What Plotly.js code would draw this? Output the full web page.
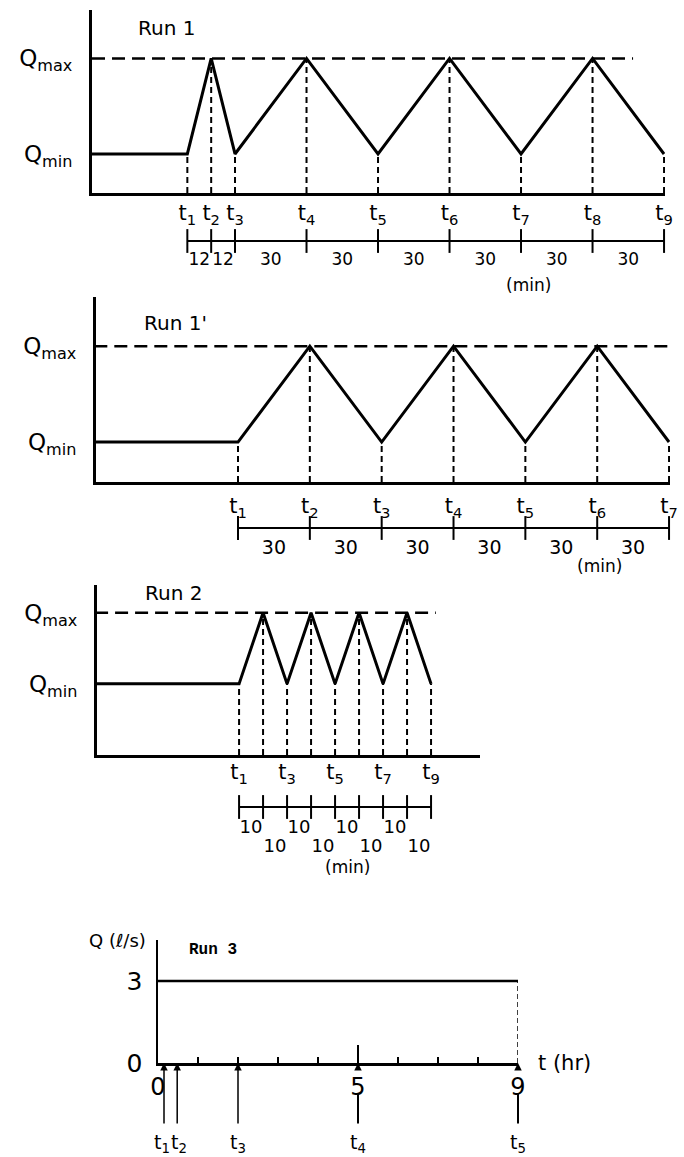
<!DOCTYPE html>
<html><head><meta charset="utf-8">
<script src="https://cdn.plot.ly/plotly-3.0.1.min.js"></script>
<style>html,body{margin:0;padding:0;background:#fff;} #chart{width:684px;height:1157px;}</style>
</head><body><div id="chart"></div>
<script>
// ---------------- DATA ----------------
// Run 1 : times (min, as drawn, relative to t1) and discharge levels
const run1Times = [-40, 0, 10, 20, 50, 80, 110, 140, 170, 200];
const run1Levels = ['min','min','max','min','max','min','max','min','max','min'];
const run1Durations = ['12', '12', '30', '30', '30', '30', '30', '30'];
const run1TLabels = ['t<sub>1</sub>','t<sub>2</sub>','t<sub>3</sub>','t<sub>4</sub>','t<sub>5</sub>','t<sub>6</sub>','t<sub>7</sub>','t<sub>8</sub>','t<sub>9</sub>'];
const run1QmaxEnd = 187;
const run1Q = {min: 1, max: 3.45};

// Run 1'
const run1pTimes = [-60, 0, 30, 60, 90, 120, 150, 180];
const run1pLevels = ['min','min','max','min','max','min','max','min'];
const run1pDurations = ['30', '30', '30', '30', '30', '30'];
const run1pTLabels = ['t<sub>1</sub>','t<sub>2</sub>','t<sub>3</sub>','t<sub>4</sub>','t<sub>5</sub>','t<sub>6</sub>','t<sub>7</sub>'];
const run1pQmaxEnd = 181;
const run1pQ = {min: 1, max: 3.4};

// Run 2
const run2Times = [-60, 0, 10, 20, 30, 40, 50, 60, 70, 80];
const run2Levels = ['min','min','max','min','max','min','max','min','max','min'];
const run2Durations = ['10', '10', '10', '10', '10', '10', '10', '10'];
const run2TLabels = ['t<sub>1</sub>','','t<sub>3</sub>','','t<sub>5</sub>','','t<sub>7</sub>','','t<sub>9</sub>'];
const run2QmaxEnd = 82;
const run2Q = {min: 1, max: 2.0};

// Run 3 (hours, l/s)
const run3Hours = [0, 9];
const run3Flow = [3, 3];
const run3LabelHours = [0, 5, 9];
const run3MinorHours = [1, 2, 3, 4, 6, 7, 8];
const run3MajorTickHours = [5];
const run3ArrowHours = [0.15, 0.48, 2, 5, 9];
const run3ArrowLabels = ['t<sub>1</sub>','t<sub>2</sub>','t<sub>3</sub>','t<sub>4</sub>','t<sub>5</sub>'];

// ---------------- LAYOUT HELPERS ----------------
const W = 684, H = 1157;
const FONT = 'DejaVu Sans';
const px = x => x / W;
const py = y => 1 - y / H;
const BLACK = '#000';

const traces = [];
const annotations = [];
const layout = {
  width: W, height: H, autosize: false,
  margin: {l: 0, r: 0, t: 0, b: 0, pad: 0},
  paper_bgcolor: '#fff', plot_bgcolor: 'rgba(0,0,0,0)',
  showlegend: false, hovermode: false,
  font: {family: FONT, color: BLACK}
};

function baseX(domain, range, anchor) {
  return {domain: [px(domain[0]), px(domain[1])], range: range, anchor: anchor,
    showline: true, linewidth: 3, linecolor: BLACK, showgrid: false, zeroline: false,
    ticks: '', showticklabels: false, fixedrange: true};
}

function drawRun(cfg) {
  const xa = 'xaxis' + cfg.n, ya = 'yaxis' + cfg.n, ra = 'yaxis' + (cfg.n + 4);
  const xid = 'x' + cfg.n, yid = 'y' + cfg.n, rid = 'y' + (cfg.n + 4);
  layout[xa] = baseX(cfg.xDom, cfg.xRange, yid);
  layout[ya] = {domain: [py(cfg.yDom[1]), py(cfg.yDom[0])], range: cfg.yRange, anchor: xid,
    showline: true, linewidth: 3, linecolor: BLACK, showgrid: false, zeroline: false,
    ticks: '', tickvals: [cfg.Q.min, cfg.Q.max], ticktext: ['Q<sub>min</sub>', 'Q<sub>max</sub>'],
    tickfont: {family: FONT, size: 23, color: BLACK}, ticklabelstandoff: 12, fixedrange: true};
  layout[ra] = {domain: [py(cfg.rowDom[1]), py(cfg.rowDom[0])], range: [-(cfg.rowDom[1] - cfg.rowDom[0]), 0],
    anchor: xid, visible: false, fixedrange: true};

  const q = cfg.levels.map(l => cfg.Q[l]);
  const tEvents = cfg.times.slice(1);
  const qEvents = q.slice(1);

  // Qmax reference dashed line
  traces.push({x: [cfg.times[0], cfg.qmaxEnd], y: [cfg.Q.max, cfg.Q.max], xaxis: xid, yaxis: yid,
    mode: 'lines', line: {color: BLACK, width: 2.5, dash: '13px,7px'}});
  // drop lines
  const dx = [], dy = [];
  tEvents.forEach((t, i) => { dx.push(t, t, null); dy.push(0, qEvents[i], null); });
  traces.push({x: dx, y: dy, xaxis: xid, yaxis: yid, mode: 'lines',
    line: {color: BLACK, width: 2, dash: '6px,4px'}});
  // hydrograph
  traces.push({x: cfg.times, y: q, xaxis: xid, yaxis: yid, mode: 'lines',
    line: {color: BLACK, width: 3}});

  // t labels (only the labelled events)
  const lx = [], lt = [];
  tEvents.forEach((t, i) => { if (cfg.tLabels[i]) { lx.push(t); lt.push(cfg.tLabels[i]); } });
  traces.push({x: lx, y: lx.map(() => cfg.rowPos.t), text: lt, xaxis: xid, yaxis: rid,
    mode: 'text', textposition: 'middle center', cliponaxis: false,
    textfont: {family: FONT, size: 21, color: BLACK}});
  // duration bar
  traces.push({x: tEvents, y: tEvents.map(() => cfg.rowPos.bar), xaxis: xid, yaxis: rid,
    mode: 'lines+markers', cliponaxis: false, line: {color: BLACK, width: 2},
    marker: {symbol: 'line-ns', size: 17, color: BLACK, line: {color: BLACK, width: 2}}});
  // duration numbers
  const mids = tEvents.slice(1).map((t, i) => (t + tEvents[i]) / 2);
  traces.push({x: mids, y: mids.map((m, i) => (cfg.rowPos.num2 !== undefined && i % 2 === 1) ? cfg.rowPos.num2 : cfg.rowPos.num),
    text: cfg.durations, xaxis: xid, yaxis: rid, mode: 'text', textposition: 'middle center', cliponaxis: false,
    textfont: {family: FONT, size: cfg.numSize, color: BLACK}});
  // (min)
  annotations.push({xref: xid, yref: rid, x: cfg.minX, y: cfg.rowPos.min, text: '(min)', showarrow: false,
    xanchor: 'center', yanchor: 'middle', font: {family: FONT, size: 17, color: BLACK}});
  // Run label
  annotations.push({xref: xid + ' domain', yref: yid + ' domain', x: cfg.label.x, y: cfg.label.y,
    text: cfg.label.text, showarrow: false, xanchor: 'left', yanchor: 'middle',
    font: {family: FONT, size: 20, color: BLACK}});
}

drawRun({n: 1, times: run1Times, levels: run1Levels, Q: run1Q, durations: run1Durations, tLabels: run1TLabels,
  qmaxEnd: run1QmaxEnd, xDom: [92, 665], yDom: [10, 193], rowDom: [196, 300], xRange: [-40, 200.4], yRange: [0, 4.69],
  rowPos: {t: -19, bar: -45, num: -65, min: -89}, minX: 143, numSize: 17,
  label: {text: 'Run 1', x: 0.076, y: 0.90}});

drawRun({n: 2, times: run1pTimes, levels: run1pLevels, Q: run1pQ, durations: run1pDurations, tLabels: run1pTLabels,
  qmaxEnd: run1pQmaxEnd, xDom: [96, 670], yDom: [297, 482], rowDom: [485, 590], xRange: [-59.3, 180.4], yRange: [0, 4.63],
  rowPos: {t: -23, bar: -43, num: -64, min: -81}, minX: 151, numSize: 19,
  label: {text: "Run 1'", x: 0.08, y: 0.86}});

drawRun({n: 3, times: run2Times, levels: run2Levels, Q: run2Q, durations: run2Durations, tLabels: run2TLabels,
  qmaxEnd: run2QmaxEnd, xDom: [97, 480], yDom: [585, 755], rowDom: [758, 880], xRange: [-59.2, 100.4], yRange: [0, 2.39],
  rowPos: {t: -16, bar: -49, num: -70, num2: -89, min: -109}, minX: 45, numSize: 18,
  label: {text: 'Run 2', x: 0.12, y: 0.953}});

// ---------------- Run 3 ----------------
const r3Dom = [158, 518], r3Range = [0, 9];
layout.xaxis4 = {domain: [px(r3Dom[0]), px(r3Dom[1])], range: r3Range, anchor: 'y4',
  showline: true, linewidth: 2.5, linecolor: BLACK, showgrid: false, zeroline: false,
  ticks: 'inside', ticklen: 6, tickwidth: 1.5, tickcolor: BLACK,
  tickmode: 'array', tickvals: run3LabelHours, ticktext: run3LabelHours.map(String), ticklabelstandoff: 1,
  minor: {tickmode: 'array', tickvals: run3MinorHours, ticks: 'inside', ticklen: 6, tickwidth: 1.5, tickcolor: BLACK, showgrid: false},
  tickfont: {family: FONT, size: 24, color: BLACK}, fixedrange: true};
layout.yaxis4 = {domain: [py(1063), py(940)], range: [0, 4.5], anchor: 'x4',
  showline: true, linewidth: 2.5, linecolor: BLACK, showgrid: false, zeroline: false,
  ticks: '', tickvals: [0, 3], ticktext: ['0', '3'], ticklabelstandoff: 8,
  tickfont: {family: FONT, size: 25, color: BLACK}, fixedrange: true};

traces.push({x: run3Hours, y: run3Flow, xaxis: 'x4', yaxis: 'y4', mode: 'lines', line: {color: BLACK, width: 2.5}});
const endH = run3Hours[run3Hours.length - 1];
traces.push({x: [endH, endH], y: [0, run3Flow[run3Flow.length - 1]], xaxis: 'x4', yaxis: 'y4', mode: 'lines',
  line: {color: BLACK, width: 1.5, dash: '5px,3px'}});
run3MajorTickHours.forEach(h => {
  traces.push({x: [h, h], y: [0, 0.66], xaxis: 'x4', yaxis: 'y4', mode: 'lines', line: {color: BLACK, width: 2}});
});

const pxPerHour = (r3Dom[1] - r3Dom[0]) / (r3Range[1] - r3Range[0]);
const minLabelGap = 17;
run3ArrowHours.forEach((h, i) => {
  const broken = run3LabelHours.indexOf(h) > 0;
  // arrow
  if (broken) {
    annotations.push({xref: 'x4', yref: 'y4', x: h, y: 0, text: '', showarrow: true,
      axref: 'pixel', ayref: 'pixel', ax: 0, ay: 62, arrowhead: 0, arrowwidth: 2, arrowcolor: BLACK, standoff: 31});
    annotations.push({xref: 'x4', yref: 'y4', x: h, y: 0, text: '', showarrow: true,
      axref: 'pixel', ayref: 'pixel', ax: 0, ay: 8, arrowhead: 2, arrowsize: 1, arrowwidth: 1.5, arrowcolor: BLACK});
  } else {
    annotations.push({xref: 'x4', yref: 'y4', x: h, y: 0, text: '', showarrow: true,
      axref: 'pixel', ayref: 'pixel', ax: 0, ay: 62, arrowhead: 2, arrowsize: 1, arrowwidth: 1.5, arrowcolor: BLACK});
  }
  // label, nudged apart from close neighbours
  let shift = 0;
  if (i > 0) { const g = (h - run3ArrowHours[i - 1]) * pxPerHour; if (g < minLabelGap) shift += (minLabelGap - g) / 2; }
  if (i < run3ArrowHours.length - 1) { const g = (run3ArrowHours[i + 1] - h) * pxPerHour; if (g < minLabelGap) shift -= (minLabelGap - g) / 2; }
  annotations.push({xref: 'x4', yref: 'y4', x: h, y: 0, text: run3ArrowLabels[i], showarrow: false,
    xanchor: 'center', yanchor: 'middle', xshift: shift, yshift: -80,
    font: {family: FONT, size: 19, color: BLACK}});
});

annotations.push({xref: 'x4 domain', yref: 'y4 domain', x: -0.028, y: 1.0, text: 'Q (ℓ/s)', showarrow: false,
  xanchor: 'right', yanchor: 'middle', font: {family: FONT, size: 18, color: BLACK}});
annotations.push({xref: 'x4 domain', yref: 'y4', x: 1.05, y: 0, text: 't (hr)', showarrow: false,
  xanchor: 'left', yanchor: 'middle', font: {family: FONT, size: 21, color: BLACK}});
annotations.push({xref: 'x4 domain', yref: 'y4 domain', x: 0.08, y: 0.92, text: 'Run 3', showarrow: false,
  xanchor: 'left', yanchor: 'middle', font: {family: 'Liberation Mono', size: 16, color: BLACK, weight: 'bold'}});

layout.annotations = annotations;

Plotly.newPlot('chart', traces, layout, {displayModeBar: false, staticPlot: true, responsive: false});
</script></body></html>
